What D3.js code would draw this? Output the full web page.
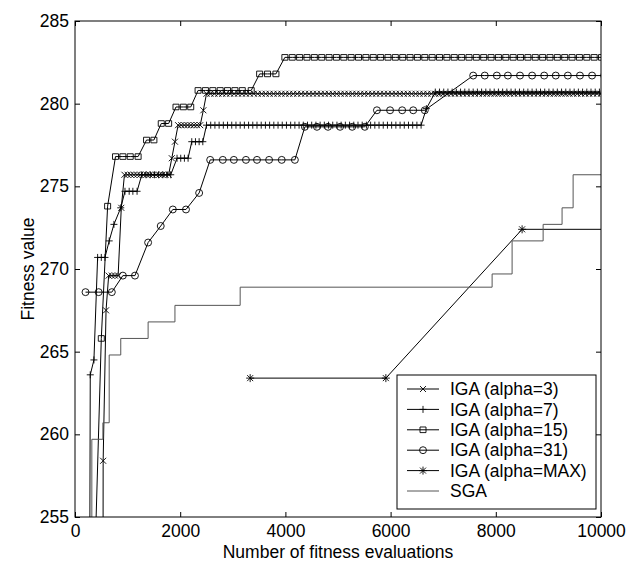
<!DOCTYPE html>
<html>
<head>
<meta charset="utf-8">
<script src="https://cdn.jsdelivr.net/npm/d3@7"></script>
<style>
  body { margin: 0; background: #fff; }
  text { font-family: "Liberation Sans", Arial, Helvetica, sans-serif; }
</style>
</head>
<body>
<svg id="chart" width="634" height="562"></svg>
<script>
const xTicks = [0, 2000, 4000, 6000, 8000, 10000]
const yTicks = [255, 260, 265, 270, 275, 280, 285]

// [fitness, [evaluation counts at which each marker sits]]
const iga3 = [
    [238, [530]],
    [258.4, [535]],
    [267.5, [590]],
    [269.6, [640, 700, 760, 820]],
    [273.7, [880]],
    [275.7, [940, 1000, 1060, 1120, 1180, 1240, 1300, 1360, 1420, 1480, 1540, 1600, 1660, 1720, 1780]],
    [276.7, [1840]],
    [277.7, [1900]],
    [278.7, [1960, 2020, 2080, 2140, 2200, 2260, 2320, 2380]],
    [279.6, [2440]],
    [280.6, [2500, 2575, 2650, 2725, 2800, 2875, 2950, 3025, 3100, 3175, 3250, 3325, 3400, 3475, 3550, 3625, 3700, 3775, 3850, 3925,
             4000, 4075, 4150, 4225, 4300, 4375, 4450, 4525, 4600, 4675, 4750, 4825, 4900, 4975, 5050, 5125, 5200, 5275, 5350, 5425,
             5500, 5575, 5650, 5725, 5800, 5875, 5950, 6025, 6100, 6175, 6250, 6325, 6400, 6475, 6550, 6625, 6700, 6775, 6850, 6925,
             7000, 7075, 7150, 7225, 7300, 7375, 7450, 7525, 7600, 7675, 7750, 7825, 7900, 7975, 8050, 8125, 8200, 8275, 8350, 8425,
             8500, 8575, 8650, 8725, 8800, 8875, 8950, 9025, 9100, 9175, 9250, 9325, 9400, 9475, 9550, 9625, 9700, 9775, 9850, 9925, 10000]]
]

const iga7 = [
    [245, [275]],
    [263.6, [290]],
    [264.5, [360]],
    [270.7, [430, 500, 570]],
    [271.7, [650]],
    [272.7, [740]],
    [273.7, [870]],
    [274.7, [950, 1030, 1100, 1180]],
    [275.7, [1270, 1350, 1430, 1510, 1590, 1670, 1750, 1820]],
    [276.7, [1940, 2010, 2080, 2150]],
    [277.7, [2220, 2290, 2360, 2430]],
    [278.7, [2500, 2580, 2660, 2740, 2820, 2900, 2980, 3060, 3140, 3220, 3300, 3380, 3460, 3540, 3620, 3700, 3780, 3860, 3940,
             4020, 4100, 4180, 4260, 4340, 4420, 4500, 4580, 4660, 4740, 4820, 4900, 4980, 5060, 5140, 5220, 5300, 5380, 5460,
             5540, 5620, 5700, 5780, 5860, 5940, 6020, 6100, 6180, 6260, 6340, 6420, 6500, 6580]],
    [279.7, [6680]],
    [280.7, [6850, 6930, 7010, 7090, 7170, 7250, 7330, 7410, 7490, 7570, 7650, 7730, 7810, 7890, 7970, 8050, 8130, 8210, 8290, 8370,
             8450, 8530, 8610, 8690, 8770, 8850, 8930, 9010, 9090, 9170, 9250, 9330, 9410, 9490, 9570, 9650, 9730, 9810, 9890, 9970]]
]

const iga15 = [
    [251.5, [370]],
    [265.8, [500]],
    [273.8, [620]],
    [276.8, [770, 910, 1050, 1200]],
    [277.8, [1360, 1500]],
    [278.8, [1640, 1780]],
    [279.8, [1920, 2060, 2200]],
    [280.8, [2340, 2480, 2620, 2760, 2900, 3040, 3180, 3350]],
    [281.8, [3510, 3660, 3820]],
    [282.8, [3990, 4130, 4270, 4410, 4550, 4690, 4830, 4970, 5110, 5250, 5390, 5530, 5670, 5810, 5950, 6090, 6230, 6370, 6510,
             6650, 6790, 6930, 7070, 7210, 7350, 7490, 7630, 7770, 7910, 8050, 8190, 8330, 8470, 8610, 8750, 8890, 9030, 9170,
             9310, 9450, 9590, 9730, 9870, 10010]]
]

const iga31 = [
    [268.6, [200, 450, 700]],
    [269.6, [910, 1140]],
    [271.6, [1390]],
    [272.6, [1630]],
    [273.6, [1860, 2110]],
    [274.6, [2360]],
    [276.6, [2570, 2810, 3020, 3250, 3460, 3690, 3930, 4180]],
    [278.6, [4370, 4600, 4810, 5040, 5270, 5510]],
    [279.6, [5740, 5990, 6220, 6430, 6650]],
    [281.7, [7570, 7790, 8020, 8230, 8460, 8690, 8920, 9140, 9370, 9600, 9830, 10060]]
]

const igaMax = [
    [263.4, [3330, 5910]],
    [272.4, [8500, 11000]]
]

// SGA is a staircase: [evaluations, fitness]
const sgaSteps = [
    [320, 250], [320, 259.7], [530, 260.7], [650, 264.8], [870, 265.8], [1390, 266.8], [1900, 267.8],
    [3140, 268.9], [7930, 269.7], [8310, 271.7], [8900, 272.7], [9260, 273.7], [9470, 275.7], [10000, 275.7]
]

const legendLabels = ['IGA (alpha=3)', 'IGA (alpha=7)', 'IGA (alpha=15)', 'IGA (alpha=31)', 'IGA (alpha=MAX)', 'SGA']

const svg = d3.select('#chart')
const plotLeft = 75, plotRight = 601, plotTop = 21, plotBottom = 517

const x = d3.scaleLinear().domain([0, 10000]).range([plotLeft, plotRight])
const y = d3.scaleLinear().domain([255, 285]).range([plotBottom, plotTop])

const toPoints = levels => levels.flatMap(([f, evals]) => evals.map(e => ({ x: e, y: f })))

const markers = {
    x: 'M-3,-3L3,3M-3,3L3,-3',
    plus: 'M-3.5,0H3.5M0,-3.5V3.5',
    square: 'M-3,-2.8H3V2.8H-3Z',
    circle: d3.symbol(d3.symbolCircle, 38)(),
    star: 'M-4,0H4M0,-4V4M-3,-3L3,3M-3,3L3,-3'
}

const series = [
    { pts: toPoints(iga3), marker: 'x' },
    { pts: toPoints(iga7), marker: 'plus' },
    { pts: toPoints(iga15), marker: 'square' },
    { pts: toPoints(iga31), marker: 'circle' },
    { pts: toPoints(igaMax), marker: 'star' }
]

svg.append('defs').append('clipPath').attr('id', 'plot')
    .append('rect')
    .attr('x', plotLeft).attr('y', plotTop)
    .attr('width', plotRight - plotLeft).attr('height', plotBottom - plotTop)

const plot = svg.append('g').attr('clip-path', 'url(#plot)')

const line = d3.line().x(d => x(d.x)).y(d => y(d.y))

series.forEach(s => {
    plot.append('path')
        .datum(s.pts)
        .attr('fill', 'none')
        .attr('stroke', '#000')
        .attr('stroke-width', 1)
        .attr('d', line)

    plot.append('g')
      .selectAll('path')
      .data(s.pts)
      .join('path')
        .attr('transform', d => `translate(${x(d.x)},${y(d.y)})`)
        .attr('d', markers[s.marker])
        .attr('fill', 'none')
        .attr('stroke', '#000')
        .attr('stroke-width', 0.9)
})

plot.append('path')
    .datum(sgaSteps)
    .attr('fill', 'none')
    .attr('stroke', '#555')
    .attr('stroke-width', 1)
    .attr('d', d3.line().x(d => x(d[0])).y(d => y(d[1])).curve(d3.curveStepAfter))

// axes, ticks pointing inward on all four sides
const fontSize = '17.5px'

svg.append('g')
    .attr('transform', `translate(0,${plotBottom})`)
    .call(d3.axisBottom(x).tickValues(xTicks).tickFormat(d3.format('d')).tickSize(-5).tickSizeOuter(0).tickPadding(8))
    .call(g => g.select('.domain').remove())
    .call(g => g.selectAll('text').attr('font-size', fontSize).attr('fill', '#000'))

svg.append('g')
    .attr('transform', `translate(0,${plotTop})`)
    .call(d3.axisTop(x).tickValues(xTicks).tickSize(-5).tickSizeOuter(0).tickFormat(''))
    .call(g => g.select('.domain').remove())

svg.append('g')
    .attr('transform', `translate(${plotLeft},0)`)
    .call(d3.axisLeft(y).tickValues(yTicks).tickSize(-5).tickSizeOuter(0).tickPadding(6))
    .call(g => g.select('.domain').remove())
    .call(g => g.selectAll('text').attr('font-size', fontSize).attr('fill', '#000'))

svg.append('g')
    .attr('transform', `translate(${plotRight},0)`)
    .call(d3.axisRight(y).tickValues(yTicks).tickSize(-5).tickSizeOuter(0).tickFormat(''))
    .call(g => g.select('.domain').remove())

svg.selectAll('.tick text').attr('font-family', null)

svg.append('rect')
    .attr('x', plotLeft).attr('y', plotTop)
    .attr('width', plotRight - plotLeft).attr('height', plotBottom - plotTop)
    .attr('fill', 'none')
    .attr('stroke', '#000')
    .attr('stroke-width', 1)

svg.append('text')
    .attr('x', (plotLeft + plotRight) / 2)
    .attr('y', 558)
    .attr('text-anchor', 'middle')
    .attr('font-size', fontSize)
    .text('Number of fitness evaluations')

svg.append('text')
    .attr('transform', `translate(34,${(plotTop + plotBottom) / 2}) rotate(-90)`)
    .attr('text-anchor', 'middle')
    .attr('font-size', fontSize)
    .text('Fitness value')

// legend
const legend = svg.append('g').attr('transform', 'translate(397,375)')

legend.append('rect')
    .attr('width', 199).attr('height', 134)
    .attr('fill', '#fff')
    .attr('stroke', '#000')
    .attr('stroke-width', 1)

const legendMarkers = ['x', 'plus', 'square', 'circle', 'star', null]

const rows = legend.selectAll('g.row')
    .data(legendLabels)
    .join('g')
    .attr('class', 'row')
    .attr('transform', (d, i) => `translate(0,${14 + i * 20.4})`)

rows.append('line')
    .attr('x1', 10).attr('x2', 42)
    .attr('stroke', (d, i) => i === 5 ? '#555' : '#000')
    .attr('stroke-width', 1)

rows.filter((d, i) => legendMarkers[i])
    .append('path')
    .attr('transform', 'translate(26,0)')
    .attr('d', d => markers[legendMarkers[legendLabels.indexOf(d)]])
    .attr('fill', 'none')
    .attr('stroke', '#000')
    .attr('stroke-width', 0.9)

rows.append('text')
    .attr('x', 53)
    .attr('dy', '0.35em')
    .attr('font-size', fontSize)
    .text(d => d)
</script>
</body>
</html>
